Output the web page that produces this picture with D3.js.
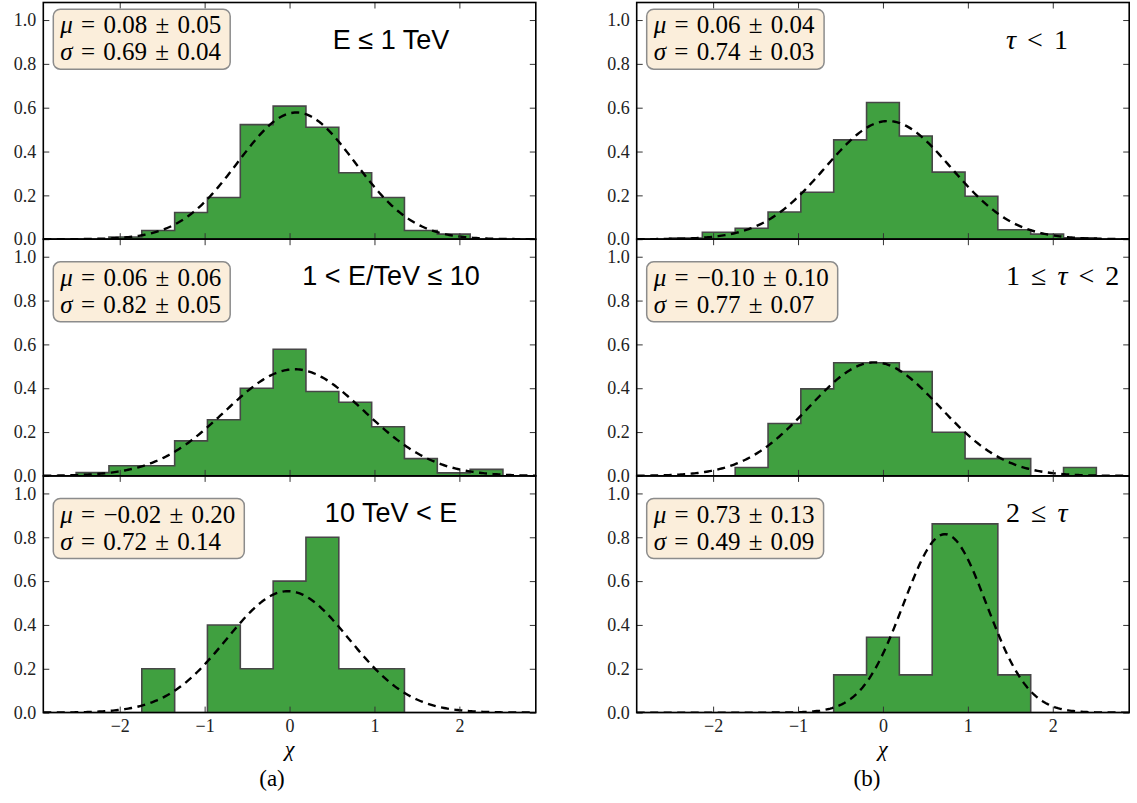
<!DOCTYPE html>
<html>
<head>
<meta charset="utf-8">
<script src="https://cdn.jsdelivr.net/npm/d3@7"></script>
<style>
  body { margin: 0; background: #fff; }
  svg { font-family: "Liberation Serif", "Times New Roman", serif; }
</style>
</head>
<body>
<svg width="1137" height="803"></svg>
<script>
// histogram bin edges (15 bins over the x range)
var binEdges = [-2.9, -2.513, -2.127, -1.740, -1.353, -0.967, -0.580, -0.193,
  0.193, 0.580, 0.967, 1.353, 1.740, 2.127, 2.513, 2.9];

// normalised counts per bin, panel (a): energy bins
var eLow  = [0, 0, 0.010, 0.040, 0.122, 0.190, 0.523, 0.607, 0.511, 0.303, 0.190, 0.040, 0.023, 0, 0];
var eMid  = [0, 0.015, 0.046, 0.046, 0.160, 0.256, 0.400, 0.578, 0.385, 0.336, 0.224, 0.079, 0.014, 0.030, 0];
var eHigh = [0, 0, 0, 0.2, 0, 0.4, 0.2, 0.6, 0.8, 0.2, 0.2, 0, 0, 0, 0];

// panel (b): tau bins
var tauLow  = [0, 0.005, 0.032, 0.050, 0.124, 0.214, 0.453, 0.624, 0.471, 0.306, 0.196, 0.043, 0.023, 0.006, 0];
var tauMid  = [0, 0, 0, 0.038, 0.239, 0.397, 0.516, 0.516, 0.476, 0.199, 0.079, 0.079, 0, 0.038, 0];
var tauHigh = [0, 0, 0, 0, 0, 0, 0.172, 0.344, 0.172, 0.861, 0.861, 0.172, 0, 0, 0];

// gaussian fit results (a-top, a-mid, a-bottom, b-top, b-mid, b-bottom)
var fitMu    = [0.08, 0.06, -0.02, 0.06, -0.10, 0.73];
var fitSigma = [0.69, 0.82, 0.72, 0.74, 0.77, 0.49];
var muLabels    = ['0.08 ± 0.05', '0.06 ± 0.06', '−0.02 ± 0.20', '0.06 ± 0.04', '−0.10 ± 0.10', '0.73 ± 0.13'];
var sigmaLabels = ['0.69 ± 0.04', '0.82 ± 0.05', '0.72 ± 0.14', '0.74 ± 0.03', '0.77 ± 0.07', '0.49 ± 0.09'];

var energyTitles = ['E ≤ 1 TeV', '1 < E/TeV ≤ 10', '10 TeV < E'];
var tauTitles = ['τ < 1', '1 ≤ τ < 2', '2 ≤ τ'];

var xTicks = [-2, -1, 0, 1, 2];
var yTicks = [0, 0.2, 0.4, 0.6, 0.8, 1.0];
var captions = ['(a)', '(b)'];

// layout ---------------------------------------------------------------
var colX = [43.3, 636.7];
var plotW = 492.5;
var rowY = [2.5, 239.2, 475.9];
var plotH = 236.7;
var boxDy = [6.7, 22.6, 22.6];

var svg = d3.select('svg');

var xScale = d3.scaleLinear().domain([-2.9, 2.9]).range([0, plotW]);
var yScale = d3.scaleLinear().domain([0, 1.08]).range([plotH, 0]);

var panels = [
  { col: 0, row: 0, values: eLow,    title: energyTitles[0] },
  { col: 0, row: 1, values: eMid,    title: energyTitles[1] },
  { col: 0, row: 2, values: eHigh,   title: energyTitles[2] },
  { col: 1, row: 0, values: tauLow,  title: tauTitles[0] },
  { col: 1, row: 1, values: tauMid,  title: tauTitles[1] },
  { col: 1, row: 2, values: tauHigh, title: tauTitles[2] }
];

// write text with greek letters in italic
function mathText(sel, str) {
  var parts = str.split(/([μστχ])/);
  parts.forEach(p => {
    if (!p) return;
    var t = sel.append('tspan').text(p);
    if (/[μστχ]/.test(p)) t.attr('font-style', 'italic');
  });
  return sel;
}

function gauss(mu, s) {
  return d => Math.exp(-0.5 * Math.pow((d - mu) / s, 2)) / (s * Math.sqrt(2 * Math.PI));
}

var xs = d3.range(-2.9, 2.9001, 0.02);

panels.forEach((p, i) => {
  var g = svg.append('g')
    .attr('transform', 'translate(' + [colX[p.col], rowY[p.row]] + ')');

  g.append('clipPath').attr('id', 'clip' + i)
    .append('rect').attr('width', plotW).attr('height', plotH);

  var plot = g.append('g').attr('clip-path', 'url(#clip' + i + ')');

  // stepfilled histogram
  var pts = [[binEdges[0], 0]];
  p.values.forEach((v, k) => {
    pts.push([binEdges[k], v]);
    pts.push([binEdges[k + 1], v]);
  });
  pts.push([binEdges[binEdges.length - 1], 0]);
  var step = d3.line().x(d => xScale(d[0])).y(d => yScale(d[1]));
  plot.append('path')
    .attr('d', step(pts) + 'Z')
    .attr('fill', '#40a040')
    .attr('stroke', '#474747')
    .attr('stroke-width', 1.6);

  // fitted gaussian
  var f = gauss(fitMu[i], fitSigma[i]);
  var curve = d3.line().x(d => xScale(d)).y(d => yScale(f(d)));
  plot.append('path')
    .attr('d', curve(xs))
    .attr('fill', 'none')
    .attr('stroke', '#000')
    .attr('stroke-width', 2.4)
    .attr('stroke-dasharray', '8,5.5');

  // axes, ticks inward on all sides
  var yAxis = d3.axisLeft(yScale).tickValues(yTicks).tickFormat(d3.format('.1f'))
    .tickSizeInner(-6).tickSizeOuter(0).tickPadding(7);
  var yAxisR = d3.axisRight(yScale).tickValues(yTicks).tickFormat('')
    .tickSizeInner(-6).tickSizeOuter(0);
  var xAxisT = d3.axisTop(xScale).tickValues(xTicks).tickFormat('')
    .tickSizeInner(-6).tickSizeOuter(0);
  var xAxis = d3.axisBottom(xScale).tickValues(xTicks)
    .tickFormat(p.row < 2 ? '' : d3.format('d'))
    .tickSizeInner(-6).tickSizeOuter(0).tickPadding(7);

  var axes = [
    g.append('g').call(yAxis),
    g.append('g').attr('transform', 'translate(' + plotW + ',0)').call(yAxisR),
    g.append('g').call(xAxisT),
    g.append('g').attr('transform', 'translate(0,' + plotH + ')').call(xAxis)
  ];
  axes.forEach(a => {
    a.attr('font-family', null).attr('font-size', null);
    a.select('.domain').remove();
    a.selectAll('line').attr('stroke', '#333').attr('stroke-width', 1);
    a.selectAll('text')
      .style('font-family', '"Liberation Serif", serif')
      .style('font-size', '18px')
      .attr('fill', '#222');
  });

  // spines
  g.append('rect')
    .attr('width', plotW).attr('height', plotH)
    .attr('fill', 'none').attr('stroke', '#000').attr('stroke-width', 1.6);

  // fit box
  var box = g.append('g').attr('transform', 'translate(' + [10, boxDy[p.row]] + ')');
  var boxRect = box.append('rect');
  var t1 = mathText(box.append('text').attr('x', 7).attr('y', 24)
    .attr('font-size', 25).attr('word-spacing', 2), 'μ = ' + muLabels[i]);
  var t2 = mathText(box.append('text').attr('x', 7).attr('y', 51.3)
    .attr('font-size', 25).attr('word-spacing', 2), 'σ = ' + sigmaLabels[i]);
  var w = Math.max(t1.node().getBBox().width, t2.node().getBBox().width);
  boxRect.attr('width', w + 15).attr('height', 60)
    .attr('rx', 7).attr('ry', 7)
    .attr('fill', '#fbeedb')
    .attr('stroke', '#8c8c8c').attr('stroke-width', 1.5);

  // panel label
  if (p.col === 0) {
    g.append('text')
      .attr('x', 0.7 * plotW + 3).attr('y', 46)
      .attr('text-anchor', 'middle')
      .style('font-family', '"Liberation Sans", Arial, sans-serif')
      .attr('font-size', 27)
      .text(p.title);
  } else {
    mathText(g.append('text')
      .attr('x', 0.75 * plotW).attr('y', 46)
      .attr('font-size', 28).attr('word-spacing', 4), p.title);
  }

  if (p.row === 2) {
    mathText(g.append('text')
      .attr('x', plotW / 2).attr('y', plotH + 43)
      .attr('text-anchor', 'middle')
      .attr('font-size', 22), 'χ');
  }
});

// sub-figure captions
svg.selectAll('.cap').data(captions).enter().append('text')
  .attr('class', 'cap')
  .attr('x', (d, i) => [272, 867][i])
  .attr('y', 786)
  .attr('text-anchor', 'middle')
  .attr('font-size', 23)
  .text(d => d);
</script>
</body>
</html>
